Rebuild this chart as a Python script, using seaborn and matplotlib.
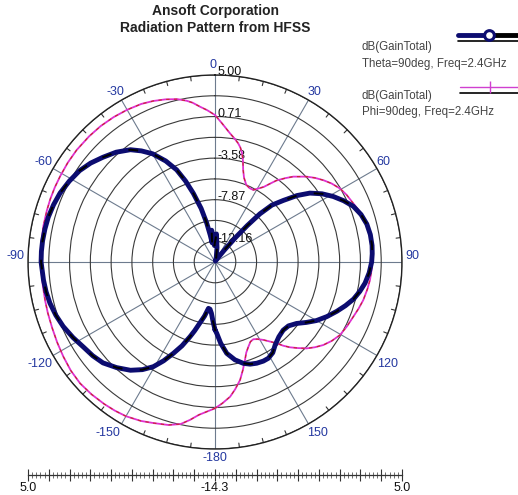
import matplotlib
matplotlib.use("Agg")
import matplotlib.pyplot as plt
import numpy as np
import pandas as pd
import seaborn as sns
from matplotlib.lines import Line2D

sns.set_theme(style="white")
plt.rcParams["font.family"] = ["Liberation Sans", "DejaVu Sans"]

W, H = 518, 495

# ring values (dB), every other one labelled
r_min, r_max = -14.3, 5.0
ring_values = [-12.155, -10.01, -7.87, -5.725, -3.58, -1.435, 0.71, 2.855, 5.0]
ring_labels = ["-12.16", "-7.87", "-3.58", "0.71", "5.00"]
ring_label_values = [-12.16, -7.87, -3.58, 0.71, 5.0]

angle_ticks = [0, 30, 60, 90, 120, 150, 180, 210, 240, 270, 300, 330]
angle_labels = ["0", "30", "60", "90", "120", "150", "-180",
                "-150", "-120", "-90", "-60", "-30"]

# dB(GainTotal), Phi=90deg (magenta)
phi_ang = [-180, -177, -174, -171, -168, -164, -159, -155, -150, -146, -142,
           -137, -132, -127, -122, -117, -112, -107, -103, -98, -94, -90,
           -84, -78, -73, -69, -65, -61, -56, -51, -45, -40, -35, -30, -25,
           -21, -17, -13, -10, -8, -5.5, -3, 0, 3, 6.6, 9, 11, 12.5, 14, 15.5,
           17, 19, 22, 25, 28, 30.5, 33, 35, 37, 40, 42.5, 47, 50, 53, 56,
           59.5, 63, 67, 70, 73, 76, 79.5, 85, 90, 93, 96.6, 100, 104.4, 108,
           111.6, 116, 120.3, 124, 127.5, 130.5, 133.3, 136, 138.7, 140.8,
           142.8, 145.5, 148.2, 151, 153.6, 156, 158.5, 161, 163, 165.5, 168,
           171, 173.6, 177, 180]
phi_db = [0.8, 1.15, 1.56, 2.2, 2.8, 3.2, 3.5, 3.8, 4.08, 4.2, 4.29, 4.38,
          4.43, 4.33, 4.15, 3.98, 3.83, 3.74, 3.68, 3.64, 3.63, 3.69, 3.74,
          3.8, 3.85, 3.9, 3.94, 3.97, 4.03, 4.07, 4.06, 4.03, 3.95, 3.84, 3.7,
          3.5, 3.25, 2.95, 2.6, 2.3, 1.8, 1.4, 0.87, 0.0, -0.92, -1.4, -1.81,
          -2.2, -2.74, -3.5, -4.36, -5.1, -5.7, -5.88, -5.88, -5.5, -5.06,
          -4.45, -3.77, -3.0, -2.35, -1.38, -0.8, -0.28, 0.2, 0.66, 0.95, 1.2,
          1.45, 1.7, 1.85, 1.97, 2.0, 1.94, 1.88, 1.8, 1.68, 1.5, 1.28, 1.05,
          0.85, 0.64, 0.25, -0.22, -0.75, -1.3, -1.95, -2.58, -3.15, -3.77,
          -4.35, -4.84, -5.2, -5.4, -5.3, -4.9, -4.4, -3.72, -2.8, -1.85,
          -1.0, -0.31, 0.3, 0.8]

# dB(GainTotal), Theta=90deg (navy)
theta_ang = [-180, -178, -176, -174, -172, -169, -166, -163.5, -161.5, -158.5,
             -155.5, -152.5, -149.5, -146, -142, -137, -132, -127.5, -123,
             -118, -113, -108.5, -104, -100, -96, -90, -86.5, -83, -79, -75,
             -70.5, -66, -61, -56, -51.5, -47, -42, -37, -33.5, -30, -26,
             -22.6, -20, -17.5, -14.5, -12, -10, -8.5, -6, -2, 3, 8, 15, 25,
             35, 38, 40, 41.5, 43, 45, 48, 51, 54, 57.5, 61, 64.5, 68, 72, 76,
             80, 84, 87, 90, 94, 98, 101.5, 105, 108.5, 112, 116, 120, 123.5,
             127, 131, 135, 139.5, 144, 147.5, 151, 154, 157.6, 161, 164.4,
             168.5, 172.7, 176, 178.6, 180]
theta_db = [-7.3, -8.2, -9.0, -9.4, -9.47, -8.6, -7.79, -6.9, -6.17, -5.0,
            -3.94, -2.8, -1.76, -0.9, -0.12, 0.6, 1.26, 1.6, 1.86, 2.3, 2.72,
            3.02, 3.26, 3.4, 3.5, 3.65, 3.65, 3.63, 3.58, 3.52, 3.38, 3.2,
            2.9, 2.56, 2.1, 1.54, 0.95, 0.21, -0.55, -1.4, -2.7, -4.0, -5.4,
            -6.87, -8.6, -10.2, -11.5, -12.3, -11.0, -12.6, -11.4, -12.8,
            -13.8, -14.2, -13.8, -12.8, -11.0, -9.3, -7.5, -6.0, -4.8, -3.4,
            -2.2, -1.2, -0.35, 0.4, 1.08, 1.55, 1.85, 1.98, 2.0, 1.95, 1.87,
            1.65, 1.34, 0.95, 0.5, -0.1, -0.73, -1.45, -2.21, -3.0, -3.76,
            -4.25, -4.35, -4.15, -3.73, -3.2, -2.94, -2.92, -3.0, -3.15,
            -3.44, -4.0, -4.8, -5.9, -6.94, -7.3]

# where each angle label sits, pixel offset from the rim
label_offsets = [(-2, -10), (6.5, -8), (6, -6.5), (10, -6), (11, 8.5),
                 (9.5, 9), (0, 9), (-13.5, 9), (-13, 8.5), (-13, -6),
                 (-10, -6.5), (-6.5, -8)]


def fig_xy(x, y):
    return x / W, 1 - y / H


fig = plt.figure(figsize=(W / 100, H / 100), dpi=100)
fig.patch.set_facecolor("white")

cx, cy, R = 215, 262, 187
ax = fig.add_axes([(cx - R) / W, 1 - (cy + R) / H, 2 * R / W, 2 * R / H],
                  projection="polar")
ax.set_facecolor("white")
ax.set_theta_zero_location("N")
ax.set_theta_direction(-1)
ax.set_rlim(r_min, r_max)

ax.set_rticks(ring_values)
ax.set_yticklabels([])
ax.set_thetagrids(angle_ticks, labels=[""] * len(angle_ticks))
ax.xaxis.grid(True, color="#6d7b8e", lw=0.8)
ax.yaxis.grid(True, color="#3a3a3a", lw=0.8)
ax.spines["polar"].set_color("#222222")
ax.spines["polar"].set_linewidth(1.0)

for t, lab, (dx, dy) in zip(angle_ticks, angle_labels, label_offsets):
    ax.annotate(lab, xy=(np.deg2rad(t), r_max), xytext=(dx * 0.72, -dy * 0.72),
                textcoords="offset points", ha="center", va="center",
                fontsize=9, color="#2438a0", annotation_clip=False)

# small ticks on the outer ring
for t in np.arange(0, 360, 7.5):
    if t % 30:
        ax.plot(np.deg2rad([t, t]), [r_max, r_max - 0.45], color="#333333",
                lw=0.8, clip_on=False)

for lab, v in zip(ring_labels, ring_label_values):
    ax.annotate(lab, xy=(0, v), xytext=(1.5, -2.5), textcoords="offset points",
                ha="left", va="bottom", fontsize=9, color="#111111", zorder=1.5)

df_phi = pd.DataFrame({"theta": np.deg2rad(phi_ang), "db": phi_db})
df_theta = pd.DataFrame({"theta": np.deg2rad(theta_ang), "db": theta_db})

sns.lineplot(data=df_phi, x="theta", y="db", ax=ax, sort=False,
             estimator=None, color="#e030d0", lw=1.3, zorder=3)
ax.plot(df_phi["theta"], df_phi["db"], color="#c82828", lw=0.8,
        dashes=(3, 4), zorder=3)
sns.lineplot(data=df_theta, x="theta", y="db", ax=ax, sort=False,
             estimator=None, color="#0c0c70", lw=3.5, zorder=4)
ax.plot(df_theta["theta"], df_theta["db"], color="black", lw=1.4,
        dashes=(5, 9), zorder=4)
ax.set_xlabel("")
ax.set_ylabel("")

# title
fig.text(*fig_xy(cx, 11), "Ansoft Corporation", ha="center", va="center",
         fontsize=10, fontweight="bold", color="#222222")
fig.text(*fig_xy(cx, 28), "Radiation Pattern from HFSS", ha="center",
         va="center", fontsize=10, fontweight="bold", color="#222222")

# legend
leg_col = "#444444"
fig.text(*fig_xy(362, 47), "dB(GainTotal)", ha="left", va="center",
         fontsize=8.3, color=leg_col)
fig.text(*fig_xy(362, 64), "Theta=90deg, Freq=2.4GHz", ha="left",
         va="center", fontsize=8.3, color=leg_col)
fig.text(*fig_xy(362, 96), "dB(GainTotal)", ha="left", va="center",
         fontsize=8.3, color=leg_col)
fig.text(*fig_xy(362, 112), "Phi=90deg, Freq=2.4GHz", ha="left",
         va="center", fontsize=8.3, color=leg_col)

for (x0, x1, y, c, lw) in [(458, 489, 35, "#0c0c70", 3.5),
                           (489, 518, 35, "black", 3.5),
                           (458, 518, 41, "black", 1.2),
                           (460, 518, 87, "#d040d0", 1.0),
                           (460, 518, 93, "black", 1.2)]:
    fig.add_artist(Line2D([x0 / W, x1 / W], [1 - y / H, 1 - y / H],
                          transform=fig.transFigure, color=c, lw=lw))
fig.add_artist(Line2D([489 / W], [1 - 35 / H], transform=fig.transFigure,
                      marker="o", ms=7, mfc="white", mec="#0c0c70", mew=2.2))
fig.add_artist(Line2D([490 / W], [1 - 87 / H], transform=fig.transFigure,
                      marker="|", ms=8, mec="#d040d0", mew=1.0))

# radial scale ruler
axr = fig.add_axes([(cx - R) / W, 1 - 475 / H, 2 * R / W, 0.001])
axr.set_xlim(-(r_max - r_min), r_max - r_min)
step = (r_max - r_min) / 9
axr.set_xticks(np.arange(-9, 10) * step)
axr.set_xticks(np.arange(-45, 46) * step / 5, minor=True)
axr.set_xticklabels(["5.0"] + [""] * 8 + ["-14.3"] + [""] * 8 + ["5.0"])
axr.set_yticks([])
for s in ["top", "left", "right"]:
    axr.spines[s].set_visible(False)
axr.spines["bottom"].set_color("#333333")
axr.spines["bottom"].set_linewidth(0.9)
axr.tick_params(axis="x", which="major", direction="inout", length=8,
                width=0.8, color="#333333", labelsize=9, pad=1,
                labelcolor="#111111", bottom=True)
axr.tick_params(axis="x", which="minor", direction="inout", length=4,
                width=0.6, color="#555555", bottom=True)
axr.set_facecolor("none")

fig.savefig("out.png", dpi=100, facecolor="white")
